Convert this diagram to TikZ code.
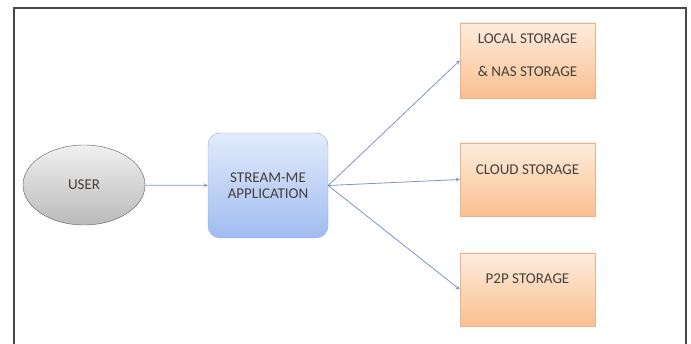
\documentclass[tikz,border=0pt]{standalone}
\usepackage{fontspec}
\setmainfont{Carlito}
\usepackage{tikz}
\usepackage{xcolor}
\usetikzlibrary{shapes.geometric,arrows,positioning}
\definecolor{storeTop}{RGB}{253,236,222}
\definecolor{storeBot}{RGB}{250,192,143}
\definecolor{storeLine}{RGB}{236,178,140}
\definecolor{appTop}{RGB}{226,235,251}
\definecolor{appBot}{RGB}{160,188,240}
\definecolor{appLine}{RGB}{150,172,220}
\definecolor{userTop}{RGB}{240,240,240}
\definecolor{userBot}{RGB}{186,186,186}
\definecolor{linkBlue}{RGB}{125,148,196}
\definecolor{txtGray}{RGB}{70,64,60}

\begin{document}
\begin{tikzpicture}[x=1pt,y=-1pt,>=stealth,
    store/.style={draw=storeLine,top color=storeTop,bottom color=storeBot,
        minimum width=135pt,minimum height=73pt,font=\fontsize{15}{16}\selectfont,
        text=txtGray,align=center},
    app/.style={draw=appLine,top color=appTop,bottom color=appBot,rounded corners=12pt,
        minimum width=120pt,minimum height=105pt,font=\fontsize{15}{16}\selectfont,
        text=txtGray,align=center},
    user/.style={ellipse,draw=black!65,top color=userTop,bottom color=userBot,
        minimum width=122pt,minimum height=80pt,font=\fontsize{15}{16}\selectfont,
        text=txtGray},
    link/.style={->,draw=linkBlue,line width=0.8pt}]
                    \useasboundingbox (0,0) rectangle (691,344);
                    \draw[line width=2.8pt,black!72] (14,360) -- (14,8) -- (686,8) -- (686,360);
                    
                    \node[user] (usr) at (84,185) {USER};
                    \node[app] (stream) at (268,185.5) {STREAM-ME\\APPLICATION};
                    
                    \node[store,minimum height=75pt,text depth=10pt] (local) at (527.5,60.5) {LOCAL STORAGE\\[17pt]\& NAS STORAGE};
                    \node[store,text depth=19pt] (cloud) at (527.5,179.5) {CLOUD STORAGE};
                    \node[store,text depth=21pt] (p2p) at (527.5,289.5) {P2P STORAGE};
                    
                    \draw[link] (usr) -- (stream);
                    \draw[link] (stream.east) -- (local.west);
                    \draw[link] (stream.east) -- (cloud.west);
                    \draw[link] (stream.east) -- (p2p.west);
                \end{tikzpicture}
\end{document}
